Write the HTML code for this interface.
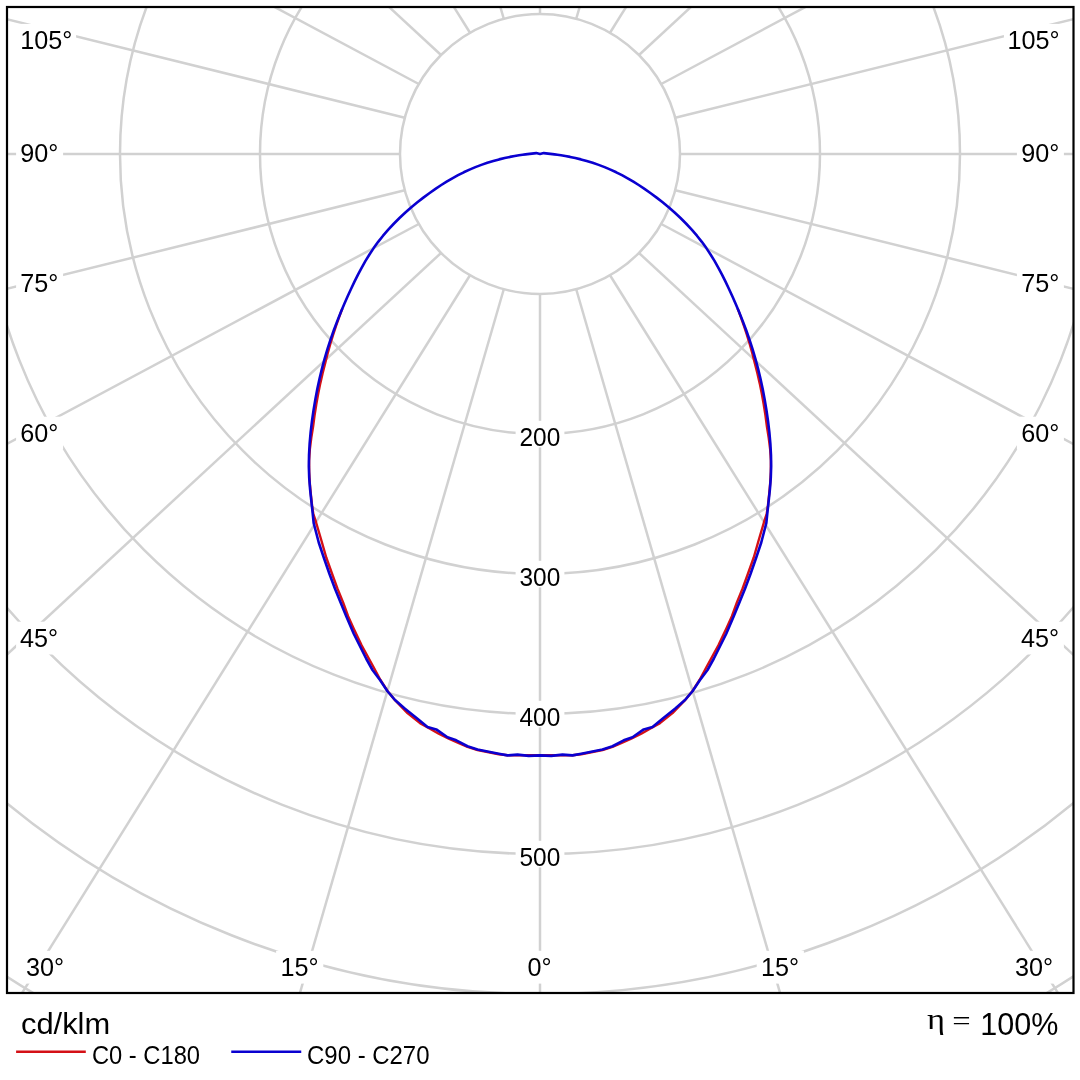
<!DOCTYPE html>
<html lang="en"><head><meta charset="utf-8"><title>Polar diagram</title>
<style>html,body{margin:0;padding:0;background:#fff}body{width:1080px;height:1080px;overflow:hidden}svg{display:block}text{font-family:"Liberation Sans", sans-serif;fill:#000}</style>
</head><body>
<svg width="1080" height="1080" viewBox="0 0 1080 1080">
<rect width="1080" height="1080" fill="#fff"/>
<defs><clipPath id="fc"><rect x="7.00" y="7.00" width="1066.50" height="986.00"/></clipPath></defs>
<g clip-path="url(#fc)">
<g fill="none" stroke="#d1d1d1" stroke-width="2.50">
<circle cx="540" cy="154" r="140"/>
<circle cx="540" cy="154" r="280"/>
<circle cx="540" cy="154" r="420"/>
<circle cx="540" cy="154" r="560"/>
<circle cx="540" cy="154" r="700"/>
<circle cx="540" cy="154" r="840"/>
<circle cx="540" cy="154" r="980"/>
<line x1="540.00" y1="294.00" x2="540.00" y2="1694.00"/>
<line x1="576.23" y1="289.23" x2="967.93" y2="1641.53"/>
<line x1="610.00" y1="275.24" x2="1366.70" y2="1487.68"/>
<line x1="638.99" y1="252.99" x2="1709.13" y2="1242.94"/>
<line x1="661.24" y1="224.00" x2="1971.89" y2="924.00"/>
<line x1="675.23" y1="190.23" x2="2137.06" y2="552.58"/>
<line x1="680.00" y1="154.00" x2="2193.40" y2="154.00"/>
<line x1="675.23" y1="117.77" x2="2137.06" y2="-244.58"/>
<line x1="661.24" y1="84.00" x2="1971.89" y2="-616.00"/>
<line x1="638.99" y1="55.01" x2="1709.13" y2="-934.94"/>
<line x1="610.00" y1="32.76" x2="1366.70" y2="-1179.68"/>
<line x1="576.23" y1="18.77" x2="967.93" y2="-1333.53"/>
<line x1="540.00" y1="14.00" x2="540.00" y2="-1386.00"/>
<line x1="503.77" y1="18.77" x2="112.07" y2="-1333.53"/>
<line x1="470.00" y1="32.76" x2="-286.70" y2="-1179.68"/>
<line x1="441.01" y1="55.01" x2="-629.13" y2="-934.94"/>
<line x1="418.76" y1="84.00" x2="-891.89" y2="-616.00"/>
<line x1="404.77" y1="117.77" x2="-1057.06" y2="-244.58"/>
<line x1="400.00" y1="154.00" x2="-1113.40" y2="154.00"/>
<line x1="404.77" y1="190.23" x2="-1057.06" y2="552.58"/>
<line x1="418.76" y1="224.00" x2="-891.89" y2="924.00"/>
<line x1="441.01" y1="252.99" x2="-629.13" y2="1242.94"/>
<line x1="470.00" y1="275.24" x2="-286.70" y2="1487.68"/>
<line x1="503.77" y1="289.23" x2="112.07" y2="1641.53"/>
</g>
<g fill="#fff">
<rect x="515.6" y="420.8" width="48.8" height="26.6"/>
<rect x="515.6" y="560.8" width="48.8" height="26.6"/>
<rect x="515.6" y="700.8" width="48.8" height="26.6"/>
<rect x="515.6" y="840.8" width="48.8" height="26.6"/>
<rect x="16.7" y="23.9" width="59.4" height="32.2"/>
<rect x="1003.9" y="23.9" width="59.4" height="32.2"/>
<rect x="16.1" y="136.9" width="47.0" height="32.8"/>
<rect x="1016.9" y="136.9" width="47.0" height="32.8"/>
<rect x="16.1" y="266.9" width="47.0" height="32.8"/>
<rect x="1016.9" y="266.9" width="47.0" height="32.8"/>
<rect x="16.1" y="416.7" width="47.0" height="32.8"/>
<rect x="1016.9" y="416.7" width="47.0" height="32.8"/>
<rect x="16.1" y="621.7" width="47.0" height="32.8"/>
<rect x="1016.9" y="621.7" width="47.0" height="32.8"/>
<rect x="21.7" y="950.8" width="47.5" height="32.8"/>
<rect x="1010.8" y="950.8" width="47.5" height="32.8"/>
<rect x="276.1" y="950.8" width="47.2" height="32.8"/>
<rect x="756.7" y="950.8" width="47.2" height="32.8"/>
<rect x="523.0" y="950.8" width="34.0" height="32.8"/>
</g>
</g>
<path d="M342.42,308.37 L339.25,316.81 L336.15,325.55 L333.16,334.58 L330.31,343.88 L327.64,353.42 L325.18,363.19 L322.63,373.17 L320.29,383.38 L318.17,393.81 L316.26,404.49 L314.56,415.41 L313.09,426.57 L311.28,437.9 L309.84,449.31 L309.12,460.71 L309.21,472 L309.81,483.1 L310.83,494.14 L312.06,505.38 L313.3,514 L315.8,521.5 L321.25,540 L326.25,557.5 L332.5,575 L337.5,588.75 L343.1,602.5 L348.1,616.25 L353.75,628.75 L361.6,645.3 L373.75,667.5 L380.3,679.7 L387.5,691 L395,700.2 L407.5,713.1 L420,723.1 L430,728.75 L438.75,733.75 L448.75,738.75 L460,743.75 L467.5,746.8 L477.5,750 L490,752.5 L498.75,754.3 L507.5,755.2 L517.5,755.4 L528.75,755.2 L540,755.2 L551.25,755.2 L562.5,755.4 L572.5,755.2 L581.25,754.3 L590,752.5 L602.5,750 L612.5,746.8 L620,743.75 L631.25,738.75 L641.25,733.75 L650,728.75 L660,723.1 L672.5,713.1 L685,700.2 L692.5,691 L699.7,679.7 L706.25,667.5 L718.4,645.3 L726.25,628.75 L731.9,616.25 L736.9,602.5 L742.5,588.75 L747.5,575 L753.75,557.5 L758.75,540 L764.2,521.5 L766.7,514 L767.94,505.38 L769.17,494.14 L770.19,483.1 L770.79,472 L770.88,460.71 L770.16,449.31 L768.72,437.9 L766.91,426.57 L765.44,415.41 L763.74,404.49 L761.83,393.81 L759.71,383.38 L757.37,373.17 L754.82,363.19 L752.36,353.42 L749.69,343.88 L746.84,334.58 L743.85,325.55 L740.75,316.81 L737.58,308.37" fill="none" stroke="#d41016" stroke-width="2.4" stroke-linejoin="round"/>
<path d="M540,154 L536.25,153.1 L527.56,154.11 L525.49,154.38 L522.59,154.76 L518.97,155.29 L514.71,155.99 L509.91,156.9 L504.68,158.02 L499.11,159.38 L493.3,160.98 L487.35,162.81 L481.35,164.87 L475.4,167.14 L469.55,169.62 L463.77,172.3 L458.04,175.2 L452.34,178.31 L446.63,181.66 L440.9,185.24 L435.13,189.09 L429.3,193.2 L423.37,197.61 L417.37,202.31 L411.35,207.29 L405.37,212.54 L399.49,218.04 L393.77,223.75 L388.28,229.64 L383.06,235.7 L378.18,241.86 L373.66,248.11 L369.45,254.46 L365.49,260.94 L361.74,267.57 L358.12,274.38 L354.61,281.42 L351.13,288.72 L347.66,296.33 L344.16,304.27 L340.68,312.55 L337.24,321.14 L333.89,330.03 L330.67,339.2 L327.6,348.62 L324.73,358.28 L322.08,368.15 L319.63,378.25 L317.4,388.57 L315.39,399.12 L313.58,409.92 L311.99,420.96 L310.65,432.22 L309.64,443.6 L309.02,455.02 L308.85,466.38 L309.2,477.57 L310.03,488.61 L311.18,499.72 L312.46,511.17 L313.71,523.27 L318.75,542.5 L323.75,557.5 L329.4,573.75 L335,588.75 L340.6,602.5 L346.25,616.25 L353.75,633.75 L360,646.25 L366.25,658.75 L372.5,670 L380,680 L387.5,691.25 L395,700 L405,708.75 L417.5,718.75 L427.5,726.9 L436.25,729.4 L447.5,737.2 L456.25,740.3 L467.5,746.25 L477.5,749.4 L490,751.9 L498.75,753.75 L507.5,755.4 L517.5,754.6 L528.75,755.9 L540,755.4 L551.25,755.9 L562.5,754.6 L572.5,755.4 L581.25,753.75 L590,751.9 L602.5,749.4 L612.5,746.25 L623.75,740.3 L632.5,737.2 L643.75,729.4 L652.5,726.9 L662.5,718.75 L675,708.75 L685,700 L692.5,691.25 L700,680 L707.5,670 L713.75,658.75 L720,646.25 L726.25,633.75 L733.75,616.25 L739.4,602.5 L745,588.75 L750.6,573.75 L756.25,557.5 L761.25,542.5 L766.29,523.27 L767.54,511.17 L768.82,499.72 L769.97,488.61 L770.8,477.57 L771.15,466.38 L770.98,455.02 L770.36,443.6 L769.35,432.22 L768.01,420.96 L766.42,409.92 L764.61,399.12 L762.6,388.57 L760.37,378.25 L757.92,368.15 L755.27,358.28 L752.4,348.62 L749.33,339.2 L746.11,330.03 L742.76,321.14 L739.32,312.55 L735.84,304.27 L732.34,296.33 L728.87,288.72 L725.39,281.42 L721.88,274.38 L718.26,267.57 L714.51,260.94 L710.55,254.46 L706.34,248.11 L701.82,241.86 L696.94,235.7 L691.72,229.64 L686.23,223.75 L680.51,218.04 L674.63,212.54 L668.65,207.29 L662.63,202.31 L656.63,197.61 L650.7,193.2 L644.87,189.09 L639.1,185.24 L633.37,181.66 L627.66,178.31 L621.96,175.2 L616.23,172.3 L610.45,169.62 L604.6,167.14 L598.65,164.87 L592.65,162.81 L586.7,160.98 L580.89,159.38 L575.32,158.02 L570.09,156.9 L565.29,155.99 L561.03,155.29 L557.41,154.76 L554.51,154.38 L552.44,154.11 L543.75,153.1 L540,154Z" fill="none" stroke="#0a00d0" stroke-width="2.6" stroke-linejoin="round"/>
<rect x="7.00" y="7.00" width="1066.50" height="986.00" fill="none" stroke="#000" stroke-width="2.2"/>
<line x1="16.1" y1="1051.7" x2="85.8" y2="1051.7" stroke="#d41016" stroke-width="2.6"/>
<line x1="231.25" y1="1051.7" x2="301.25" y2="1051.7" stroke="#0a00d0" stroke-width="2.6"/>
<text x="519.53" y="445.70" font-size="25.2" textLength="40.77" lengthAdjust="spacingAndGlyphs">200</text>
<text x="519.53" y="585.70" font-size="25.2" textLength="40.77" lengthAdjust="spacingAndGlyphs">300</text>
<text x="519.53" y="725.70" font-size="25.2" textLength="40.77" lengthAdjust="spacingAndGlyphs">400</text>
<text x="519.53" y="865.70" font-size="25.2" textLength="40.77" lengthAdjust="spacingAndGlyphs">500</text>
<text x="20.25" y="48.60" font-size="25.2">105°</text>
<text x="1007.55" y="48.60" font-size="25.2">105°</text>
<text x="20.15" y="162.20" font-size="25.2">90°</text>
<text x="1021.20" y="162.20" font-size="25.2">90°</text>
<text x="20.15" y="292.20" font-size="25.2">75°</text>
<text x="1021.20" y="292.20" font-size="25.2">75°</text>
<text x="20.15" y="442.00" font-size="25.2">60°</text>
<text x="1021.20" y="442.00" font-size="25.2">60°</text>
<text x="19.90" y="647.00" font-size="25.2">45°</text>
<text x="1020.95" y="647.00" font-size="25.2">45°</text>
<text x="26.00" y="976.10" font-size="25.2">30°</text>
<text x="1015.00" y="976.10" font-size="25.2">30°</text>
<text x="280.60" y="976.10" font-size="25.2">15°</text>
<text x="761.05" y="976.10" font-size="25.2">15°</text>
<text x="527.55" y="976.10" font-size="25.2">0°</text>
<text x="20.98" y="1034.20" font-size="30.4" textLength="89.16" lengthAdjust="spacingAndGlyphs">cd/klm</text>
<text x="91.96" y="1063.90" font-size="25.2" textLength="108.09" lengthAdjust="spacingAndGlyphs">C0 - C180</text>
<text x="307.05" y="1063.90" font-size="25.2" textLength="122.47" lengthAdjust="spacingAndGlyphs">C90 - C270</text>
<text><tspan x="926.93" y="1028.70" font-size="29.5" style="font-family:'Liberation Serif', serif" textLength="18.05" lengthAdjust="spacingAndGlyphs">η</tspan> <tspan x="952.39" y="1030.00" font-size="27" style="font-family:'Liberation Serif', serif" textLength="18.40" lengthAdjust="spacingAndGlyphs">=</tspan> <tspan x="980.31" y="1034.50" font-size="30.7" textLength="78.08" lengthAdjust="spacingAndGlyphs">100%</tspan></text>
</svg>
</body></html>
